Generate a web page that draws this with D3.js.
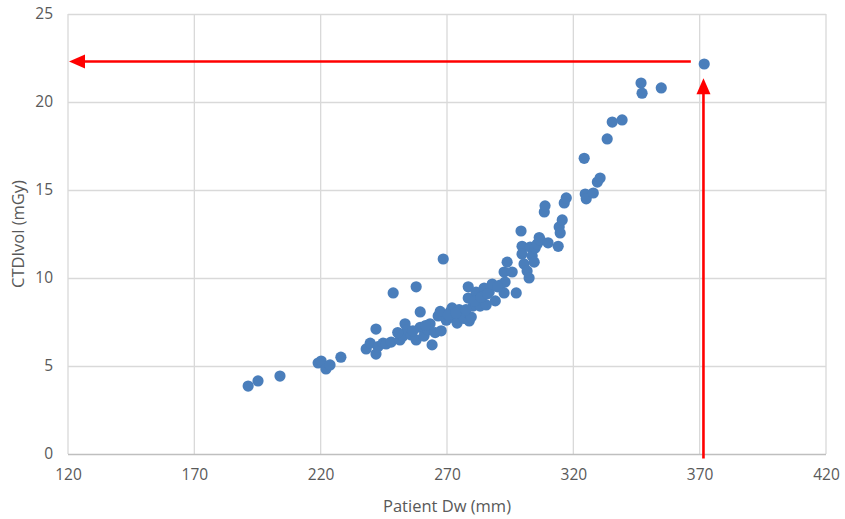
<!DOCTYPE html>
<html>
<head>
<meta charset="utf-8">
<script src="https://cdn.jsdelivr.net/npm/d3@7"></script>
<style>
  body { margin: 0; background: #fff; }
  text { font-family: "Open Sans", "Liberation Sans", sans-serif; fill: #595959; }
</style>
</head>
<body>
<div id="chart"></div>
<script>
// patient water-equivalent diameter (mm) and CTDIvol (mGy)
const dw = [191.3, 195.2, 203.9, 219, 220.2, 222.1, 223.7, 228, 238, 239.6,
  241.9, 241.9, 242.7, 244.7, 245.9, 247.9, 248.7, 251.4, 252.6, 253.4,
  254.2, 255.8, 257.8, 257.8, 259.4, 259.4, 260.9, 262.5, 263.3, 264.1,
  265.3, 266.5, 267.7, 268.5, 267.3, 269.7, 271.2, 272, 273.2, 274,
  274.8, 276, 276.8, 278.4, 278.4, 278.8, 279.6, 280.3, 281.5, 282.3,
  283.1, 284.3, 284.7, 285.5, 286.7, 287.9, 289.1, 291, 293, 292.6,
  292.6, 293.8, 295.8, 297.4, 299.3, 299.7, 299.7, 300.5, 301.7, 302.5,
  302.9, 303.7, 304.5, 304.9, 305.7, 306.5, 306.9, 308.5, 308.8, 310,
  314, 314.4, 314.8, 315.6, 316.4, 317.2, 324.3, 324.7, 325.1, 327.9,
  329.5, 330.6, 333.4, 335.4, 339.3, 346.8, 347.2, 354.8, 371.8,
  250.5, 256.5, 261.5, 270.5, 273.5, 277.5, 281, 283.5, 286, 290];
const ctdi = [3.86, 4.15, 4.43, 5.17, 5.28, 4.83, 5.06, 5.5, 5.97, 6.3,
  7.1, 5.68, 6.1, 6.3, 6.25, 6.36, 9.15, 6.48, 6.7, 7.4,
  7.05, 6.76, 9.5, 6.48, 8.07, 7.2, 6.7, 7.05, 7.4, 6.2,
  6.9, 7.84, 7.0, 11.08, 8.1, 7.6, 8.07, 8.3, 7.7, 7.44,
  8.2, 7.9, 7.7, 8.86, 9.5, 7.56, 7.78, 8.4, 9.2, 8.75,
  8.4, 9.0, 9.43, 8.47, 9.2, 9.66, 8.7, 9.6, 9.77, 10.34,
  9.15, 10.9, 10.34, 9.15, 12.67, 11.8, 11.36, 10.8, 10.4, 10.0,
  11.76, 11.25, 10.9, 11.7, 11.93, 12.3, 12.16, 13.75, 14.1, 12.0,
  11.8, 12.9, 12.56, 13.3, 14.26, 14.55, 16.8, 14.77, 14.5, 14.83,
  15.45, 15.68, 17.9, 18.86, 18.98, 21.08, 20.5, 20.8, 22.16,
  6.9, 7.0, 7.3, 7.9, 8.0, 8.2, 8.7, 8.9, 9.1, 9.5];
const xTicks = [120, 170, 220, 270, 320, 370, 420];
const yTicks = [0, 5, 10, 15, 20, 25];
// red guide arrows (value coordinates)
const hArrow = {y: 22.3, from: 366.5, to: 120.4};
const vArrow = {x: 371.5, from: -0.25, to: 21.35};

const width = 845, height = 519;
const margins = {top: 14, left: 68, right: 19, bottom: 65};

const svg = d3.select("#chart").append("svg")
  .attr("width", width).attr("height", height);

const x = d3.scaleLinear().domain([120, 420]).range([margins.left, width - margins.right]);
const y = d3.scaleLinear().domain([0, 25]).range([height - margins.bottom, margins.top]);

// grid
svg.append("g").selectAll("line").data(yTicks.slice(1)).join("line")
  .attr("x1", x(120)).attr("x2", x(420))
  .attr("y1", d => y(d) + 0.5).attr("y2", d => y(d) + 0.5)
  .attr("stroke", "#d9d9d9").attr("stroke-width", 1.3);
svg.append("g").selectAll("line").data(xTicks).join("line")
  .attr("x1", d => x(d)).attr("x2", d => x(d))
  .attr("y1", y(0)).attr("y2", y(25))
  .attr("stroke", "#d9d9d9").attr("stroke-width", 1.3);
svg.append("line")
  .attr("x1", x(120)).attr("x2", x(420))
  .attr("y1", y(0) + 0.5).attr("y2", y(0) + 0.5)
  .attr("stroke", "#bfbfbf").attr("stroke-width", 1.3);

// axes labels via d3 axes, domain/ticks removed
const xAxis = svg.append("g")
  .attr("transform", `translate(0,${y(0)})`)
  .call(d3.axisBottom(x).tickValues(xTicks).tickSize(0).tickPadding(15));
const yAxis = svg.append("g")
  .attr("transform", `translate(${x(120)},0)`)
  .call(d3.axisLeft(y).tickValues(yTicks).tickSize(0).tickPadding(15));
[xAxis, yAxis].forEach(a => {
  a.select(".domain").remove();
  a.selectAll("text").attr("font-size", 15.5).attr("fill", "#595959")
    .style("font-family", "'Open Sans', sans-serif");
});

svg.append("text")
  .attr("x", (x(120) + x(420)) / 2).attr("y", 512)
  .attr("text-anchor", "middle").attr("font-size", 16.5)
  .text("Patient Dw (mm)");
svg.append("text")
  .attr("transform", `translate(24,${(y(0) + y(25)) / 2}) rotate(-90)`)
  .attr("text-anchor", "middle").attr("font-size", 16.5)
  .text("CTDIvol (mGy)");

// points
svg.append("g").selectAll("circle").data(dw.map((d, i) => [d, ctdi[i]])).join("circle")
  .attr("cx", d => x(d[0])).attr("cy", d => y(d[1]))
  .attr("r", 5.6).attr("fill", "#4a7ebb");

// arrows
const red = "#ff0000";
const hy = y(hArrow.y), hx0 = x(hArrow.from), hx1 = x(hArrow.to);
svg.append("line").attr("x1", hx0).attr("x2", hx1 + 14).attr("y1", hy).attr("y2", hy)
  .attr("stroke", red).attr("stroke-width", 2.6);
svg.append("path")
  .attr("d", `M${hx1},${hy} L${hx1 + 16},${hy - 7} L${hx1 + 16},${hy + 7} Z`)
  .attr("fill", red);
const vx = x(vArrow.x), vy0 = y(vArrow.from), vy1 = y(vArrow.to);
svg.append("line").attr("x1", vx).attr("x2", vx).attr("y1", vy0).attr("y2", vy1 + 14)
  .attr("stroke", red).attr("stroke-width", 2.6);
svg.append("path")
  .attr("d", `M${vx},${vy1} L${vx - 7},${vy1 + 16} L${vx + 7},${vy1 + 16} Z`)
  .attr("fill", red);
</script>
</body>
</html>
